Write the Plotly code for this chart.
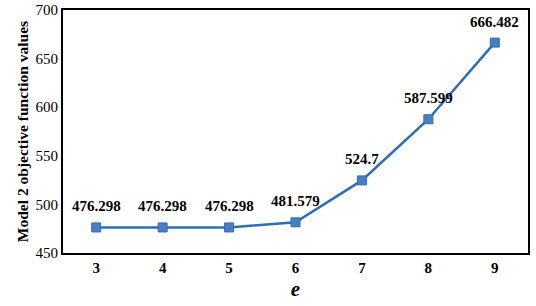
import plotly.graph_objects as go

categories = ["3", "4", "5", "6", "7", "8", "9"]
values = [476.298, 476.298, 476.298, 481.579, 524.7, 587.599, 666.482]
labels = ["476.298", "476.298", "476.298", "481.579", "524.7", "587.599", "666.482"]
y_ticks = [450, 500, 550, 600, 650, 700]

font_family = "Liberation Serif"

fig = go.Figure()
fig.add_trace(go.Scatter(
    x=categories, y=values,
    mode="lines+markers",
    line=dict(color="#2E6DB4", width=2.5),
    marker=dict(symbol="square", size=9, color="#4A7EC0", line=dict(color="#2E6DB4", width=1)),
    cliponaxis=False,
))

# on a category axis, annotation x is the category index
for i, (v, t) in enumerate(zip(values, labels)):
    fig.add_annotation(
        x=i, y=v, text="<b>" + t + "</b>", showarrow=False,
        yanchor="middle", yshift=21,
        font=dict(family=font_family, size=15, color="black"),
    )

fig.update_layout(
    width=536, height=306,
    margin=dict(l=63, r=8, t=10, b=53, autoexpand=False),
    plot_bgcolor="white", paper_bgcolor="white",
    showlegend=False,
    font=dict(family=font_family, color="black"),
)
fig.update_xaxes(
    type="category", range=[-0.5, 6.5], automargin=False,
    showline=True, linecolor="black", linewidth=2, mirror=True,
    showgrid=False, ticks="",
    tickprefix="<b>", ticksuffix="</b>",
    tickfont=dict(family=font_family, size=15),
    title=dict(text="<b><i>e</i></b>", font=dict(family=font_family, size=21), standoff=6),
)
fig.update_yaxes(
    range=[450, 700], tickvals=y_ticks, automargin=False,
    showline=True, linecolor="black", linewidth=2, mirror=True,
    showgrid=False, ticks="",
    tickprefix="<b>", ticksuffix="</b>",
    tickfont=dict(family=font_family, size=15),
    title=dict(text="<b>Model 2 objective function values</b>", font=dict(family=font_family, size=15.5), standoff=3),
)

# remove the page's default 8px body margin so the figure sits at the window origin
fig.write_html("out.html", config={"displayModeBar": False},
               post_script="document.body.style.margin='0';")
